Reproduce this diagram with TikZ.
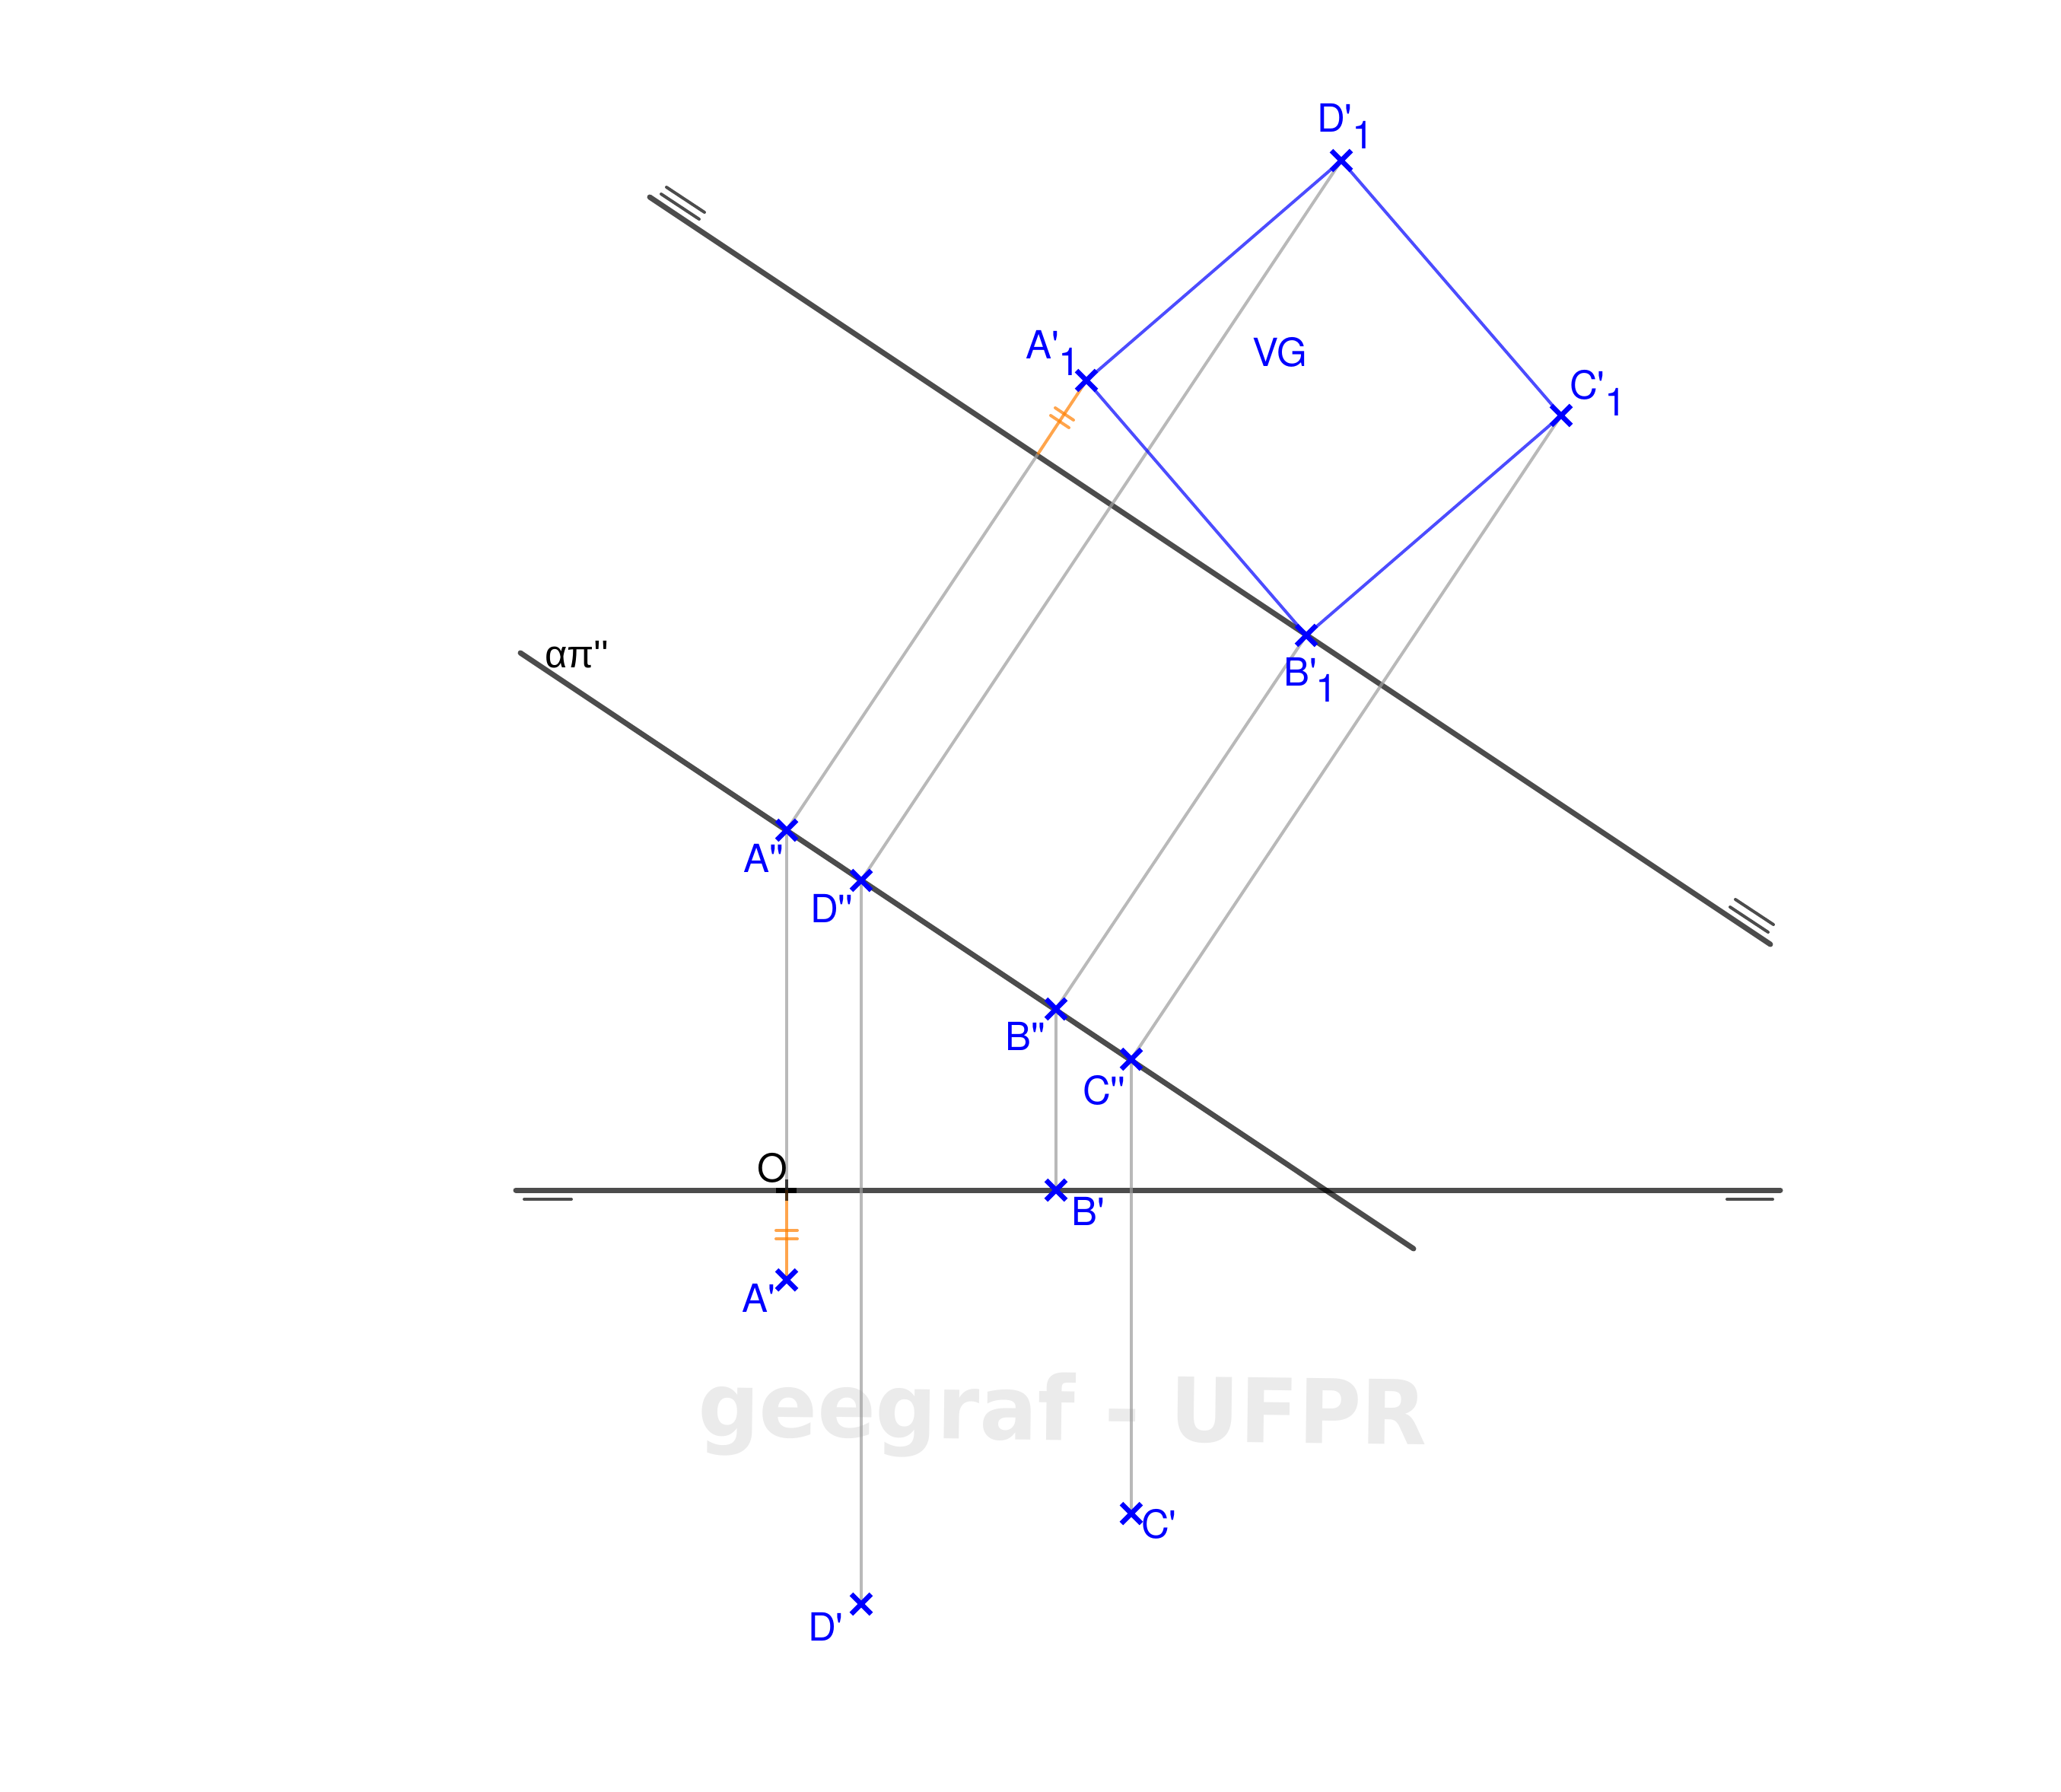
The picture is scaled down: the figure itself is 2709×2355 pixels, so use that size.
\documentclass[tikz,border=0pt]{standalone}
\usepackage{fontspec}
\setmainfont[Ligatures=TeXOff]{TeX Gyre Heros}
\newfontfamily\greekfont[Ligatures=TeXOff]{Liberation Sans}
\newfontfamily\wmfont{DejaVu Sans}
\usetikzlibrary{shapes.misc}
\definecolor{projgray}{HTML}{9E9E9E}
\definecolor{markorange}{HTML}{FF7F00}
\definecolor{wmgray}{HTML}{EBEBEB}
\tikzset{
  x=1pt,y=-1pt,
  heavy/.style={draw=black,draw opacity=.7,line width=7pt,line cap=round},
  thinline/.style={draw=black,draw opacity=.7,line width=4pt,line cap=round},
  proj/.style={draw=projgray,draw opacity=.72,line width=4pt},
  vgedge/.style={draw=blue,draw opacity=.7,line width=4pt},
  orangeline/.style={draw=markorange,draw opacity=.7,line width=4pt},
  orangetick/.style={draw=markorange,draw opacity=.7,line width=4pt,line cap=round},
  xmark/.style={cross out,draw=blue,line width=6.5pt,minimum size=26pt,inner sep=0pt,outer sep=0pt},
  lab/.style={anchor=base west,inner sep=0pt,outer sep=0pt,text=blue,font=\fontsize{51}{51}\selectfont},
  blab/.style={lab,text=black},
}
\begin{document}
\begin{tikzpicture}
\useasboundingbox (0,0) rectangle (2709,2355);
\fill[white] (0,0) rectangle (2709,2355);
% watermark
\node[name=wm,anchor=base west,inner sep=0pt,text=wmgray,rotate=-0.7,xscale=.964,transform shape,font=\wmfont\bfseries\fontsize{117}{117}\selectfont] at (917,1887) {geegraf - UFPR};
% named points
\coordinate (O) at (1034,1564);
\coordinate (Aline) at (1364,597);
\coordinate (gl) at (678,1564);
\coordinate (gr) at (2340,1564);
\coordinate (al) at (684,858);
\coordinate (ar) at (1858,1641);
\coordinate (vl) at (854,259);
\coordinate (vr) at (2327,1241);
\coordinate (pApp) at (1034,1091);
\coordinate (pDpp) at (1132,1157);
\coordinate (pBpp) at (1388,1326);
\coordinate (pCpp) at (1487,1392);
\coordinate (pAp) at (1034,1682);
\coordinate (pBp) at (1388,1564);
\coordinate (pCp) at (1487,1989);
\coordinate (pDp) at (1132,2108);
\coordinate (pAone) at (1428,500);
\coordinate (pBone) at (1717,835);
\coordinate (pCone) at (2052,546);
\coordinate (pDone) at (1763,211);
% thick lines
\path[heavy] (gl) -- (gr);
\path[heavy] (al) -- (ar);
\path[heavy] (vl) -- (vr);
\path[thinline] (689,1576) -- (751,1576);
\path[thinline] (2270,1576) -- (2330,1576);
\path[thinline] (869,255) -- (919,288);
\path[thinline] (876,246) -- (926,279);
\path[thinline] (2274,1192) -- (2324,1225);
\path[thinline] (2281,1182) -- (2331,1215);
% O mark
\draw[black,line width=7pt] (1020,1564) -- (1047,1564);
\path[proj] (pApp) -- (O);
\path[proj] (pDpp) -- (pDp);
\path[proj] (pBpp) -- (pBp);
\path[proj] (pCpp) -- (pCp);
\path[proj] (pApp) -- (Aline);
\path[proj] (pDpp) -- (pDone);
\path[proj] (pBpp) -- (pBone);
\path[proj] (pCpp) -- (pCone);
% orange
\path[orangeline] (O) -- (pAp);
\path[orangeline] (Aline) -- (pAone);
\path[orangetick] (1020,1617) -- (1048,1617);
\path[orangetick] (1020,1628) -- (1048,1628);
\path[orangetick] (1387,536) -- (1411,552);
\path[orangetick] (1381,546) -- (1405,562);
\draw[black,draw opacity=.7,line width=4pt] (1034,1550) -- (1034,1578);
% true shape
\path[vgedge] (pAone) -- (pBone) -- (pCone) -- (pDone) -- cycle;
% crosses
\node[xmark] (App) at (pApp) {};
\node[xmark] (Dpp) at (pDpp) {};
\node[xmark] (Bpp) at (pBpp) {};
\node[xmark] (Cpp) at (pCpp) {};
\node[xmark] (Ap) at (pAp) {};
\node[xmark] (Bp) at (pBp) {};
\node[xmark] (Cp) at (pCp) {};
\node[xmark] (Dp) at (pDp) {};
\node[xmark] (Aone) at (pAone) {};
\node[xmark] (Bone) at (pBone) {};
\node[xmark] (Cone) at (pCone) {};
\node[xmark] (Done) at (pDone) {};
% labels
\node[lab] (lDone) at (1731,173) {D'};
\node[lab] (lDone1) at (1777,195) {1};
\node[lab] (lAone) at (1348,471) {A'};
\node[lab] (lAone1) at (1391,493) {1};
\node[lab] (lCone) at (2063,524) {C'};
\node[lab] (lCone1) at (2109,546) {1};
\node[lab] (lBone) at (1687,901) {B'};
\node[lab] (lBone1) at (1729,922) {1};
\node[lab] (lVG) at (1646,481) {VG};
\node[lab] (lApp) at (977,1146) {A''};
\node[lab] (lDpp) at (1065,1212) {D''};
\node[lab] (lBpp) at (1321,1380) {B''};
\node[lab] (lCpp) at (1423,1451) {C''};
\node[lab] (lAp) at (975,1724) {A'};
\node[lab] (lBp) at (1408,1610) {B'};
\node[lab] (lCp) at (1500,2021) {C'};
\node[lab] (lDp) at (1062,2156) {D'};
\node[blab] (lO) at (995,1553) {O};
\node[blab] (lalpha) at (716,877) {\greekfont απ''};
\end{tikzpicture}
\end{document}
